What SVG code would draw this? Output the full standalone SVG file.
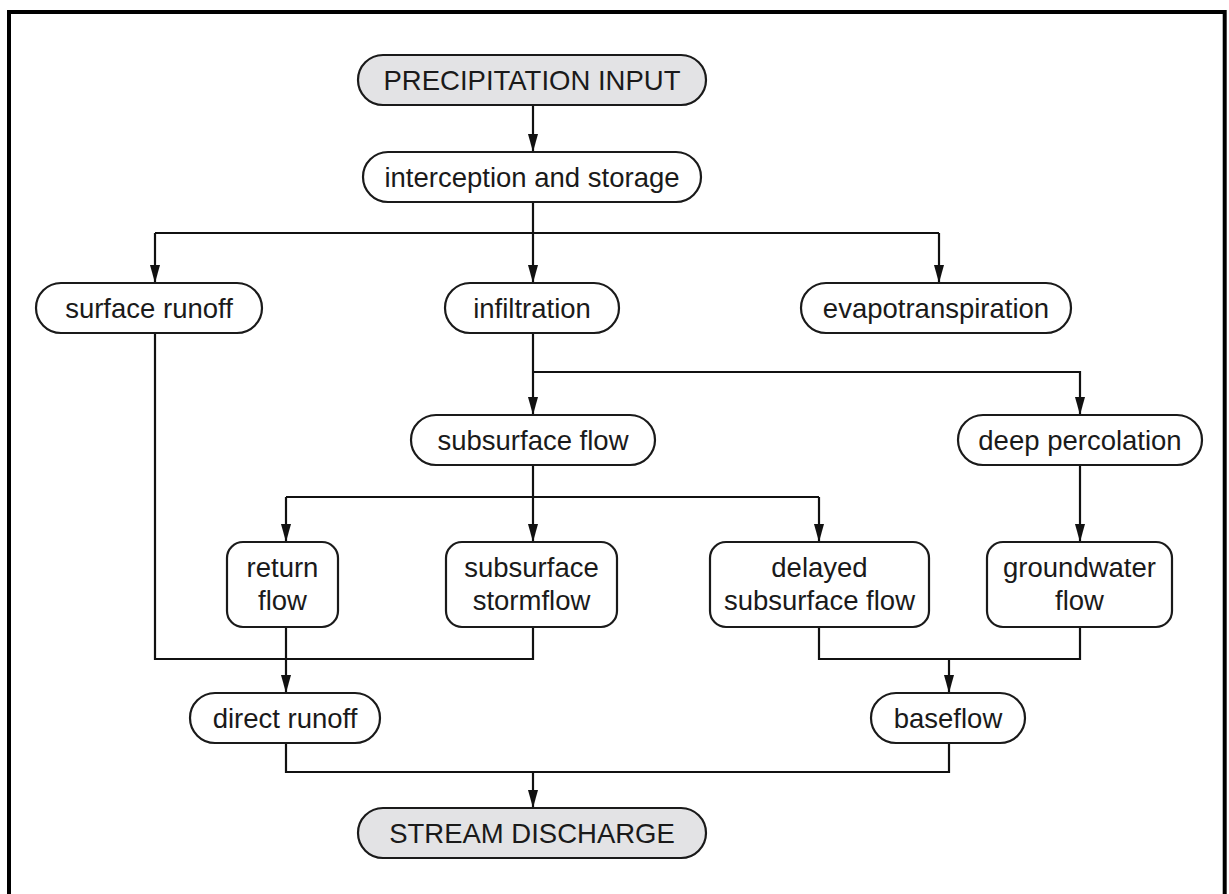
<svg xmlns="http://www.w3.org/2000/svg" width="1229" height="894" viewBox="0 0 1229 894">
<style>
.n{fill:#fff;stroke:#1a1a1a;stroke-width:2.2}
.g{fill:#e3e3e5}
.t{font-family:"Liberation Sans",Arial,sans-serif;font-size:27.5px;fill:#1a1a1a;text-anchor:middle}
.c{fill:none;stroke:#111;stroke-width:2.2}
.a{marker-end:url(#ah)}
</style>
<defs>
<marker id="ah" markerUnits="userSpaceOnUse" markerWidth="18" markerHeight="10" refX="18" refY="5" orient="auto" viewBox="0 0 18 10">
<path d="M0,0 L18,5 L0,10 z" fill="#111"/>
</marker>
</defs>
<rect x="9" y="12" width="1215.7" height="900" fill="#fff" stroke="#000" stroke-width="4"/>
<g id="connectors">
<path class="c a" d="M533,105 V152"/>
<path class="c" d="M533,202 V233 M155,233 H939"/>
<path class="c a" d="M155,233 V283"/>
<path class="c a" d="M533,233 V283"/>
<path class="c a" d="M939,233 V283"/>
<path class="c a" d="M533,333 V415"/>
<path class="c a" d="M533,372 H1080 V415"/>
<path class="c a" d="M533,465 V542"/>
<path class="c" d="M286,497 H819"/>
<path class="c a" d="M286,497 V542"/>
<path class="c a" d="M819,497 V542"/>
<path class="c a" d="M1080,465 V542"/>
<path class="c" d="M155,333 V659 H533 V627"/>
<path class="c a" d="M286,627 V693"/>
<path class="c" d="M819,627 V659 H1080 V627"/>
<path class="c a" d="M949,659 V693"/>
<path class="c" d="M286,743 V772 H949 V743"/>
<path class="c a" d="M533,772 V808"/>
</g>
<g id="precipitation-input"><rect class="n g" x="358" y="55" width="348" height="50" rx="25"/><text class="t" x="532" y="90">PRECIPITATION INPUT</text></g>
<g id="interception-and-storage"><rect class="n" x="363" y="152" width="338" height="50" rx="25"/><text class="t" x="532" y="187">interception and storage</text></g>
<g id="surface-runoff"><rect class="n" x="36" y="283" width="226" height="50" rx="25"/><text class="t" x="149" y="318">surface runoff</text></g>
<g id="infiltration"><rect class="n" x="445" y="283" width="174" height="50" rx="25"/><text class="t" x="532" y="318">infiltration</text></g>
<g id="evapotranspiration"><rect class="n" x="801" y="283" width="270" height="50" rx="25"/><text class="t" x="936" y="318">evapotranspiration</text></g>
<g id="subsurface-flow"><rect class="n" x="411" y="415" width="244" height="50" rx="25"/><text class="t" x="533" y="450">subsurface flow</text></g>
<g id="deep-percolation"><rect class="n" x="958" y="415" width="244" height="50" rx="25"/><text class="t" x="1080" y="450">deep percolation</text></g>
<g id="return-flow"><rect class="n" x="227" y="542" width="111" height="85" rx="16"/><text class="t" x="282.5" y="577">return</text><text class="t" x="282.5" y="610">flow</text></g>
<g id="subsurface-stormflow"><rect class="n" x="446" y="542" width="171" height="85" rx="16"/><text class="t" x="531.5" y="577">subsurface</text><text class="t" x="531.5" y="610">stormflow</text></g>
<g id="delayed-subsurface-flow"><rect class="n" x="710" y="542" width="219" height="85" rx="16"/><text class="t" x="819.5" y="577">delayed</text><text class="t" x="819.5" y="610">subsurface flow</text></g>
<g id="groundwater-flow"><rect class="n" x="987" y="542" width="185" height="85" rx="16"/><text class="t" x="1079.5" y="577">groundwater</text><text class="t" x="1079.5" y="610">flow</text></g>
<g id="direct-runoff"><rect class="n" x="190" y="693" width="190" height="50" rx="25"/><text class="t" x="285" y="728">direct runoff</text></g>
<g id="baseflow"><rect class="n" x="871" y="693" width="154" height="50" rx="25"/><text class="t" x="948" y="728">baseflow</text></g>
<g id="stream-discharge"><rect class="n g" x="358" y="808" width="348" height="50" rx="25"/><text class="t" x="532" y="843">STREAM DISCHARGE</text></g>
</svg>
